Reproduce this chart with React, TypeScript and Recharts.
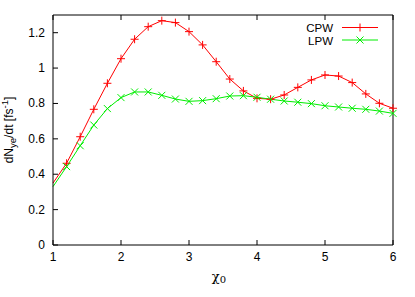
import { Customized, Line, LineChart, XAxis, YAxis } from "recharts"

// χ0 grid (every 0.2) and emission rates
const chi0 = [
  1.0, 1.2, 1.4, 1.6, 1.8, 2.0, 2.2, 2.4, 2.6, 2.8, 3.0, 3.2, 3.4,
  3.6, 3.8, 4.0, 4.2, 4.4, 4.6, 4.8, 5.0, 5.2, 5.4, 5.6, 5.8, 6.0,
]
const cpw = [
  0.35, 0.462, 0.612, 0.767, 0.914, 1.053, 1.163, 1.234, 1.268, 1.257, 1.206, 1.131, 1.036,
  0.938, 0.871, 0.829, 0.824, 0.848, 0.891, 0.933, 0.961, 0.955, 0.918, 0.854, 0.801, 0.773,
]
const lpw = [
  0.33, 0.443, 0.561, 0.678, 0.771, 0.833, 0.865, 0.865, 0.846, 0.825, 0.812, 0.816, 0.827,
  0.842, 0.844, 0.835, 0.824, 0.814, 0.807, 0.799, 0.787, 0.78, 0.773, 0.767, 0.757, 0.744,
]
const xTicks = [1, 2, 3, 4, 5, 6]
const yTicks = [0, 0.2, 0.4, 0.6, 0.8, 1, 1.2]

const RED = "#ff0000"
const GREEN = "#00ee00"
const FONT = "'Liberation Sans', Arial, sans-serif"

const rows = chi0.map((x, i) => ({ chi: x, cpw: cpw[i], lpw: lpw[i] }))

const BottomTick = ({ x, y, payload }: any) => (
  <g>
    <line x1={x} y1={y} x2={x} y2={y - 5} stroke="#000" />
    <text x={x} y={y + 16} textAnchor="middle" fontSize={12} fontFamily={FONT} fill="#000">
      {payload.value}
    </text>
  </g>
)
const TopTick = ({ x, y }: any) => <line x1={x} y1={y} x2={x} y2={y + 5} stroke="#000" />
const LeftTick = ({ x, y, payload }: any) => (
  <g>
    <line x1={x} y1={y} x2={x + 5} y2={y} stroke="#000" />
    <text x={x - 8} y={y + 4} textAnchor="end" fontSize={12} fontFamily={FONT} fill="#000">
      {payload.value}
    </text>
  </g>
)
const RightTick = ({ x, y }: any) => <line x1={x} y1={y} x2={x - 5} y2={y} stroke="#000" />

// gnuplot style point markers, none on the first sample (it sits on the border)
const Plus = ({ cx, cy, index }: any) =>
  index === 0 ? <g key={index} /> : (
    <g key={index} stroke={RED} strokeWidth={1}>
      <line x1={cx - 4} y1={cy} x2={cx + 4} y2={cy} />
      <line x1={cx} y1={cy - 4} x2={cx} y2={cy + 4} />
    </g>
  )
const Cross = ({ cx, cy, index }: any) =>
  index === 0 ? <g key={index} /> : (
    <g key={index} stroke={GREEN} strokeWidth={1}>
      <line x1={cx - 3.5} y1={cy - 3.5} x2={cx + 3.5} y2={cy + 3.5} />
      <line x1={cx - 3.5} y1={cy + 3.5} x2={cx + 3.5} y2={cy - 3.5} />
    </g>
  )

const Key = () => (
  <g fontFamily={FONT} fontSize={11.5} fill="#000">
    <text x={333} y={31.5} textAnchor="end">CPW</text>
    <line x1={342} y1={27.5} x2={378} y2={27.5} stroke={RED} />
    <line x1={356} y1={27.5} x2={364} y2={27.5} stroke={RED} />
    <line x1={360} y1={23.5} x2={360} y2={31.5} stroke={RED} />
    <text x={333} y={44.5} textAnchor="end">LPW</text>
    <line x1={342} y1={40} x2={378} y2={40} stroke={GREEN} />
    <line x1={356.5} y1={36.5} x2={363.5} y2={43.5} stroke={GREEN} />
    <line x1={356.5} y1={43.5} x2={363.5} y2={36.5} stroke={GREEN} />
  </g>
)

const XLabel = ({ viewBox }: any) => (
  <text x={viewBox.x + viewBox.width / 2 - 4} y={281} fontSize={13} fontFamily="'DejaVu Serif', serif" textAnchor="middle">
    χ<tspan fontSize={10} dy={2}>0</tspan>
  </text>
)
const YLabel = () => {
  const cx = 13
  const cy = 130
  return (
    <text x={cx} y={cy} transform={`rotate(-90 ${cx} ${cy})`} textAnchor="middle" fontSize={12} fontFamily={FONT}>
      dN<tspan fontSize={9.6} dy={3}>ye</tspan>
      <tspan dy={-3}>/dt [fs</tspan>
      <tspan fontSize={9.6} dy={-5}>-1</tspan>
      <tspan dy={5}>]</tspan>
    </text>
  )
}

export default function App() {
  return (
    <div style={{ position: "fixed", left: 0, top: 0, width: 415, height: 297, background: "#fff" }}>
      <LineChart width={415} height={297} data={rows} margin={{ top: 14, right: 21, bottom: 0, left: 0 }}>
        <XAxis
          xAxisId="bottom"
          dataKey="chi"
          type="number"
          domain={[1, 6]}
          ticks={xTicks}
          height={52}
          tickSize={0}
          tickMargin={0}
          tick={<BottomTick />}
          stroke="#000"
          label={<XLabel />}
        />
        <XAxis
          xAxisId="top"
          orientation="top"
          dataKey="chi"
          type="number"
          domain={[1, 6]}
          ticks={xTicks}
          height={1}
          tickSize={0}
          tickMargin={0}
          tick={<TopTick />}
          stroke="#000"
        />
        <YAxis
          yAxisId="left"
          type="number"
          domain={[0, 1.3]}
          ticks={yTicks}
          width={53}
          tickSize={0}
          tickMargin={0}
          tick={<LeftTick />}
          stroke="#000"
          label={<YLabel />}
        />
        <YAxis
          yAxisId="right"
          orientation="right"
          type="number"
          domain={[0, 1.3]}
          ticks={yTicks}
          width={1}
          tickSize={0}
          tickMargin={0}
          tick={<RightTick />}
          stroke="#000"
        />
        <Line
          xAxisId="bottom"
          yAxisId="left"
          type="linear"
          dataKey="cpw"
          stroke={RED}
          strokeWidth={1}
          dot={<Plus />}
          isAnimationActive={false}
        />
        <Line
          xAxisId="bottom"
          yAxisId="left"
          type="linear"
          dataKey="lpw"
          stroke={GREEN}
          strokeWidth={1}
          dot={<Cross />}
          isAnimationActive={false}
        />
        <Customized component={<Key />} />
      </LineChart>
    </div>
  )
}
